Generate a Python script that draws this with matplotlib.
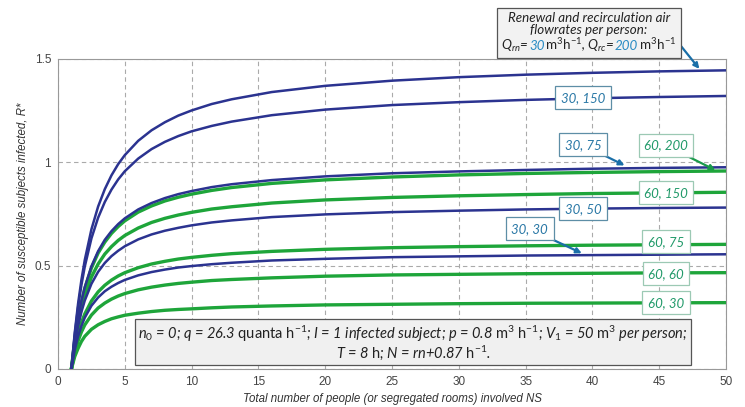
import matplotlib
matplotlib.use('Agg')
import matplotlib.pyplot as plt
from matplotlib.offsetbox import TextArea, HPacker, VPacker, AnnotationBbox

plt.rcParams['mathtext.fontset'] = 'custom'
plt.rcParams['mathtext.rm'] = 'Lato'
plt.rcParams['mathtext.it'] = 'Lato:italic'
plt.rcParams['mathtext.bf'] = 'Lato:bold'

# ---- data ----
ns = [1, 1.25, 1.5, 1.75, 2, 2.5, 3, 3.5, 4, 4.5, 5, 6, 7, 8, 9, 10, 11.5, 13, 16, 20, 25, 30, 35, 40, 45, 50]
r_30_200 = [0, 0.175, 0.316, 0.431, 0.527, 0.676, 0.786, 0.870, 0.937, 0.991, 1.035, 1.104, 1.155, 1.194, 1.226, 1.251, 1.282, 1.305, 1.340, 1.370, 1.395, 1.412, 1.424, 1.433, 1.440, 1.445]
r_30_150 = [0, 0.166, 0.299, 0.406, 0.495, 0.632, 0.732, 0.808, 0.868, 0.917, 0.957, 1.018, 1.064, 1.099, 1.127, 1.150, 1.176, 1.197, 1.228, 1.255, 1.277, 1.291, 1.302, 1.310, 1.316, 1.321]
r_30_75 = [0, 0.138, 0.244, 0.328, 0.395, 0.497, 0.570, 0.625, 0.667, 0.701, 0.729, 0.772, 0.803, 0.827, 0.846, 0.861, 0.880, 0.894, 0.914, 0.932, 0.947, 0.956, 0.963, 0.969, 0.973, 0.976]
r_60_200 = [0, 0.137, 0.241, 0.323, 0.390, 0.489, 0.561, 0.614, 0.656, 0.689, 0.717, 0.759, 0.789, 0.813, 0.831, 0.846, 0.864, 0.878, 0.898, 0.915, 0.929, 0.939, 0.946, 0.951, 0.955, 0.958]
r_60_150 = [0, 0.126, 0.222, 0.296, 0.356, 0.445, 0.508, 0.556, 0.592, 0.622, 0.646, 0.682, 0.709, 0.729, 0.745, 0.758, 0.774, 0.785, 0.803, 0.818, 0.830, 0.838, 0.844, 0.849, 0.852, 0.855]
r_30_50 = [0, 0.119, 0.207, 0.276, 0.331, 0.412, 0.470, 0.513, 0.546, 0.572, 0.594, 0.627, 0.651, 0.669, 0.683, 0.695, 0.709, 0.719, 0.735, 0.748, 0.759, 0.766, 0.772, 0.776, 0.779, 0.781]
r_60_75 = [0, 0.098, 0.169, 0.224, 0.266, 0.329, 0.373, 0.405, 0.430, 0.450, 0.466, 0.490, 0.508, 0.521, 0.532, 0.540, 0.550, 0.558, 0.569, 0.579, 0.587, 0.592, 0.596, 0.599, 0.601, 0.603]
r_30_30 = [0, 0.092, 0.158, 0.208, 0.248, 0.306, 0.346, 0.376, 0.398, 0.416, 0.431, 0.453, 0.469, 0.481, 0.491, 0.498, 0.507, 0.514, 0.525, 0.533, 0.541, 0.545, 0.549, 0.551, 0.553, 0.555]
r_60_60 = [0, 0.079, 0.136, 0.179, 0.213, 0.261, 0.295, 0.319, 0.338, 0.353, 0.365, 0.383, 0.396, 0.406, 0.414, 0.420, 0.428, 0.433, 0.441, 0.449, 0.455, 0.458, 0.461, 0.463, 0.465, 0.466]
r_60_30 = [0, 0.060, 0.100, 0.133, 0.158, 0.192, 0.214, 0.230, 0.243, 0.252, 0.260, 0.270, 0.278, 0.284, 0.288, 0.291, 0.296, 0.300, 0.305, 0.310, 0.313, 0.316, 0.318, 0.319, 0.320, 0.321]

blue_series = [r_30_200, r_30_150, r_30_75, r_30_50, r_30_30]
green_series = [r_60_200, r_60_150, r_60_75, r_60_60, r_60_30]

xticks = [0, 5, 10, 15, 20, 25, 30, 35, 40, 45, 50]
yticks = [0, 0.5, 1, 1.5]
ytick_labels = ['0', '0.5', '1', '1.5']

# labels: (text, x, y, kind, arrow tip or None)
labels = [
    ('30, 150', 39.3, 1.312, 'b', None),
    ('30, 75', 39.3, 1.084, 'b', (42.4, 0.985)),
    ('60, 200', 45.5, 1.082, 'g', (49.2, 0.962)),
    ('60, 150', 45.5, 0.852, 'g', None),
    ('30, 50', 39.3, 0.775, 'b', None),
    ('30, 30', 35.3, 0.678, 'b', (39.2, 0.560)),
    ('60, 75', 45.5, 0.615, 'g', None),
    ('60, 60', 45.5, 0.460, 'g', None),
    ('60, 30', 45.5, 0.320, 'g', None),
]

BLUE = '#2b3390'
GREEN = '#1ea53a'
BLUE_TXT = '#2a78a6'
GREEN_TXT = '#229a6a'

fig = plt.figure(figsize=(7.45, 4.07), dpi=100)
ax = fig.add_axes([0.0779, 0.0934, 0.8967, 0.7617])

for s in green_series:
    ax.plot(ns, s, color=GREEN, lw=2.4, solid_capstyle='round', solid_joinstyle='round', zorder=3)
for s in blue_series:
    ax.plot(ns, s, color=BLUE, lw=1.8, solid_capstyle='round', solid_joinstyle='round', zorder=4)

ax.set_xlim(0, 50)
ax.set_ylim(0, 1.5)
ax.set_xticks(xticks)
ax.set_yticks(yticks)
ax.set_yticklabels(ytick_labels)
ax.tick_params(length=0, labelsize=8.5, labelcolor='#444', pad=5)
for lab in ax.get_xticklabels() + ax.get_yticklabels():
    lab.set_fontfamily('Liberation Sans')
ax.grid(True, color='#aaaaaa', lw=0.8, ls=(0, (4, 3)))
for sp in ax.spines.values():
    sp.set_color('#999999')
    sp.set_linewidth(0.8)

ax.set_xlabel('Total number of people (or segregated rooms) involved NS',
              fontsize=8.3, style='italic', family='Liberation Sans', color='#333', labelpad=4)
ax.set_ylabel('Number of susceptible subjects infected, R*',
              fontsize=8.3, style='italic', family='Liberation Sans', color='#333')
ax.yaxis.set_label_coords(-0.043, 0.5)

for text, x, y, kind, tip in labels:
    tc = BLUE_TXT if kind == 'b' else GREEN_TXT
    ec = '#5d8ea6' if kind == 'b' else '#9cc9b4'
    t = ax.text(x, y, text, ha='center', va='center', fontsize=9.5, style='italic',
                family='Lato', color=tc, zorder=6,
                bbox=dict(boxstyle='square,pad=0.42', fc='white', ec=ec, lw=0.9))
    if tip is not None:
        ac = '#1a6fa8' if kind == 'b' else '#1a9a4a'
        ax.annotate('', xy=tip, xytext=(x, y), zorder=5,
                    arrowprops=dict(arrowstyle='-|>', color=ac, lw=1.6,
                                    mutation_scale=8, patchA=t, shrinkA=0, shrinkB=0))

# top annotation box
tp = dict(style='italic', family='Lato', fontsize=9.6, color='#222')
line1 = TextArea('Renewal and recirculation air', textprops=tp)
line2 = TextArea('flowrates per person:', textprops=tp)
pieces = [
    (r'Q$_{\mathit{rn}}$=', '#222'),
    ('30', '#2a8cc4'),
    (r'$\mathrm{\,m^3h^{-1}}$, Q$_{\mathit{rc}}$=', '#222'),
    ('200', '#2a8cc4'),
    (r'$\mathrm{\,m^3h^{-1}}$', '#222'),
]
line3 = HPacker(children=[TextArea(p, textprops=dict(tp, color=c)) for p, c in pieces],
                align='baseline', pad=0, sep=0)
vp = VPacker(children=[line1, line2, line3], align='center', pad=0, sep=0)
ab = AnnotationBbox(vp, (589 / 745, 1 - 33 / 407), xycoords='figure fraction',
                    box_alignment=(0.5, 0.5), frameon=True, pad=0.3,
                    bboxprops=dict(fc='#f2f2f2', ec='#555', lw=0.9), zorder=7)
fig.add_artist(ab)
ax.annotate('', xy=(48.0, 1.452), xytext=(46.1, 1.605), annotation_clip=False, zorder=6,
            arrowprops=dict(arrowstyle='-|>', color='#1a6fa8', lw=1.6, mutation_scale=8,
                            shrinkA=0, shrinkB=0))

# bottom parameter box
btxt = (r'n$_{\mathit{0}}$ = 0; q = 26.3 $\mathrm{quanta\ h^{-1}}$; I = 1 infected subject; '
        r'p = 0.8 $\mathrm{m^3\ h^{-1}}$; V$_{\mathit{1}}$ = 50 $\mathrm{m^3}$ per person;' + '\n'
        r'T = 8 $\mathrm{h}$; N = rn+0.87 $\mathrm{h^{-1}}$.')
fig.text(413 / 745, 1 - 342.5 / 407, btxt, ha='center', va='center', ma='center',
         fontsize=10.5, style='italic', family='Lato', color='#222', linespacing=0.95, zorder=7,
         bbox=dict(boxstyle='square,pad=0.22', fc='#f0f0f0', ec='#555', lw=0.9))

fig.savefig('out.png', dpi=100)
